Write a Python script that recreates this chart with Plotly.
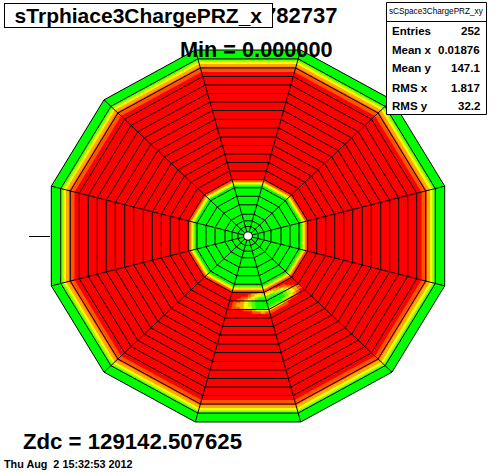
import math
import plotly.graph_objects as go

# colour levels, green -> red
palette = ["#00ff00", "#55ff00", "#aaff00", "#ffff00", "#ffaa00", "#ff5500", "#ff0000"]

sector_angles = [-90 + 30 * i for i in range(12)]

# pad-row ring radii
ring_radii = [4.3, 10, 16, 23, 33, 42, 51, 59.7, 68.7, 77.7, 86.7, 95.7, 104.7, 114.3, 123.3,
              132.7, 141.7, 150.7, 159.7, 168.7, 177.7, 187.3, 196.7]

# radial profile: outer radius of each band and its colour level, outermost first
band_outer = [196.7, 187.0, 185.5, 184.0, 182.0, 179.0, 173.5, 59.0, 57.5, 56.5, 55.0, 53.5]
band_level = [0, 1, 2, 3, 4, 5, 6, 5, 4, 3, 2, 0]
hole_radius = 4.3

# charge blob in the sector at -90 degrees
blob_a_angle = -90
blob_a_r = [59.7, 62, 64.5, 66.5, 68.7, 71, 73.5, 75.5, 77.7, 80, 82]
blob_a_levels = [
    [6, 6, 6, 6, 6, 6, 5, 5, 4, 4],
    [6, 6, 6, 6, 6, 5, 4, 3, 3, 2],
    [6, 6, 6, 5, 5, 4, 3, 2, 1, 1],
    [6, 6, 5, 5, 4, 3, 2, 1, 0, 0],
    [6, 5, 5, 4, 3, 2, 1, 0, 0, 0],
    [6, 5, 4, 4, 3, 2, 1, 0, 0, 0],
    [6, 5, 4, 4, 3, 2, 1, 0, 0, 0],
    [6, 5, 5, 4, 3, 3, 1, 0, 0, 1],
    [6, 6, 6, 6, 5, 5, 4, 3, 3, 3],
    [6, 6, 6, 6, 6, 6, 5, 5, 4, 5],
]

# charge blob in the sector at -60 degrees
blob_b_angle = -60
blob_b_r = [59.7, 62, 64.5, 67, 69.5, 72, 74.5, 77, 79.5, 82]
blob_b_levels = [
    [4, 4, 5, 5, 6, 6, 6, 6, 6, 6],
    [3, 3, 3, 4, 4, 5, 5, 6, 6, 6],
    [1, 1, 1, 2, 2, 3, 4, 5, 6, 6],
    [0, 0, 0, 0, 1, 1, 3, 4, 5, 6],
    [0, 0, 0, 0, 0, 1, 2, 3, 4, 5],
    [0, 0, 0, 0, 0, 1, 2, 3, 4, 5],
    [1, 1, 1, 1, 2, 2, 3, 4, 5, 6],
    [3, 3, 3, 3, 4, 4, 5, 5, 6, 6],
    [5, 5, 5, 5, 5, 6, 6, 6, 6, 6],
]

title_text = "sTrphiace3ChargePRZ_x"
run_text = "782737"
min_text = "Min = 0.000000"
zdc_text = "Zdc = 129142.507625"
date_text = "Thu Aug \u00a02 15:32:53 2012"
stats_title = "sCSpace3ChargePRZ_xy"
stats_labels = ["Entries", "Mean x", "Mean y", "RMS x", "RMS y"]
stats_values = ["252", "0.01876", "147.1", "1.817", "32.2"]

W, H = 496, 472
TAN15 = math.tan(math.radians(15))


def point(r, u, angle):
    a = math.radians(angle)
    return (r * math.cos(a) - u * r * TAN15 * math.sin(a),
            r * math.sin(a) + u * r * TAN15 * math.cos(a))


def polygon(r):
    pts = [point(r, -1, a) for a in sector_angles]
    pts.append(pts[0])
    return [p[0] for p in pts], [p[1] for p in pts]


fig = go.Figure()

# nested colour bands
for r, lev in zip(band_outer, band_level):
    x, y = polygon(r)
    fig.add_trace(go.Scatter(x=x, y=y, mode="lines", fill="toself", fillcolor=palette[lev],
                             line=dict(width=0), hoverinfo="skip", showlegend=False))
x, y = polygon(hole_radius)
fig.add_trace(go.Scatter(x=x, y=y, mode="lines", fill="toself", fillcolor="white",
                         line=dict(width=0), hoverinfo="skip", showlegend=False))

# blob cells
for angle, edges, levels in [(blob_a_angle, blob_a_r, blob_a_levels),
                             (blob_b_angle, blob_b_r, blob_b_levels)]:
    for i, row in enumerate(levels):
        n = len(row)
        for j, lev in enumerate(row):
            u0, u1 = -1 + 2 * j / n, -1 + 2 * (j + 1) / n
            r0, r1 = edges[i], edges[i + 1]
            pts = [point(r0, u0, angle), point(r0, u1, angle), point(r1, u1, angle),
                   point(r1, u0, angle), point(r0, u0, angle)]
            fig.add_trace(go.Scatter(x=[p[0] for p in pts], y=[p[1] for p in pts], mode="lines",
                                     fill="toself", fillcolor=palette[lev],
                                     line=dict(width=0.6, color=palette[lev]),
                                     hoverinfo="skip", showlegend=False))

# grid: rings and spokes
gx, gy = [], []
for r in ring_radii:
    x, y = polygon(r)
    gx += x + [None]
    gy += y + [None]
for a in sector_angles:
    p0, p1 = point(ring_radii[0], -1, a), point(ring_radii[-1], -1, a)
    gx += [p0[0], p1[0], None]
    gy += [p0[1], p1[1], None]
fig.add_trace(go.Scatter(x=gx, y=gy, mode="lines", line=dict(color="black", width=1),
                         hoverinfo="skip", showlegend=False))


def px(x):
    return x / W


def py(y):
    return 1 - y / H


def note(text, x, y, size, anchor="left", family="Liberation Sans", bold=True, **kw):
    label = f"<b>{text}</b>" if bold else text
    fig.add_annotation(text=label, x=px(x), y=py(y), xref="paper", yref="paper", showarrow=False,
                       xanchor=anchor, yanchor="middle",
                       font=dict(family=family, size=size, color="black"), **kw)


note(run_text, 339, 15, 22, "right")
note(title_text, 138.5, 15.5, 21, "center", bgcolor="white", bordercolor="black", borderwidth=1,
     width=267, height=23, align="center", borderpad=0)
note(min_text, 256.5, 49, 21.7, "center")
note(zdc_text, 21, 441, 22.2)
note(date_text, 2, 464, 10.8)

# stats box
shapes = [
    dict(type="rect", xref="paper", yref="paper", x0=px(386.5), x1=px(486.5), y0=py(2.5), y1=py(114.5),
         fillcolor="white", line=dict(color="black", width=1), layer="above"),
    dict(type="line", xref="paper", yref="paper", x0=px(386.5), x1=px(486.5), y0=py(21.5), y1=py(21.5),
         line=dict(color="black", width=1), layer="above"),
    # axis tick left of the polygon
    dict(type="line", xref="paper", yref="paper", x0=px(29), x1=px(50), y0=py(236.5), y1=py(236.5),
         line=dict(color="black", width=1), layer="above"),
]
note(stats_title, 436.5, 11.5, 8.2, "center", bold=False)
stats_y = [31, 50, 68, 88, 106]
for lab, val, yy in zip(stats_labels, stats_values, stats_y):
    note(lab, 390, yy, 11.5)
    note(val, 482, yy, 11.5, "right")

fig.update_layout(
    width=W, height=H, margin=dict(l=0, r=0, t=0, b=0), paper_bgcolor="white", plot_bgcolor="white",
    shapes=shapes, showlegend=False,
    xaxis=dict(range=[-248, 248], visible=False, fixedrange=True),
    yaxis=dict(range=[-249.6, 249.6], visible=False, fixedrange=True),
)
fig.write_html("out.html", post_script="document.body.style.margin='0';document.body.style.overflow='hidden';",
               config={"displayModeBar": False})
